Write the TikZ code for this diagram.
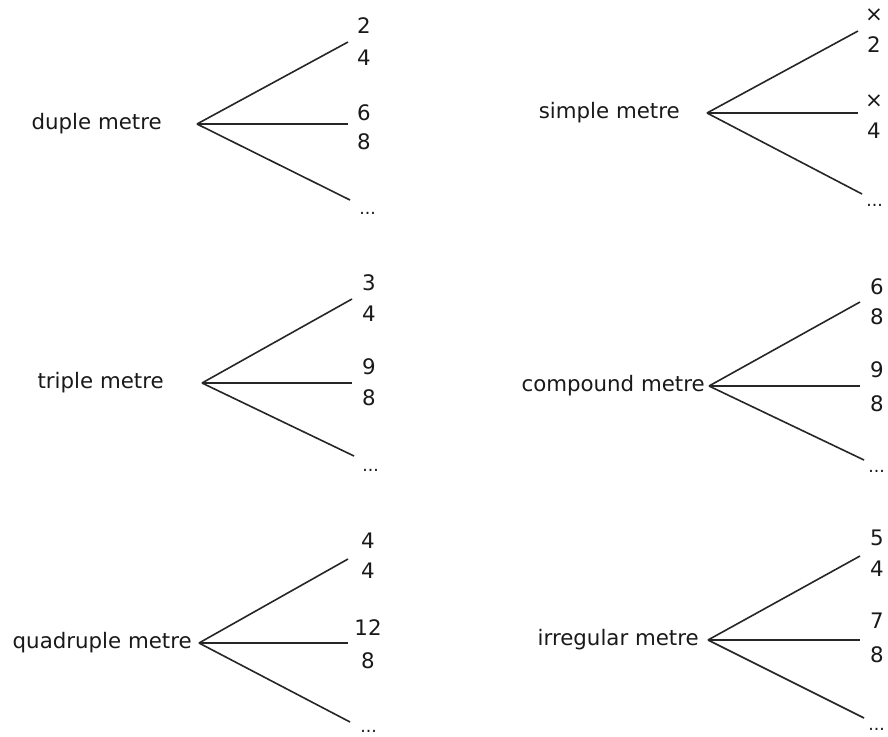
\documentclass[tikz,border=0pt]{standalone}
\usepackage{fontspec}
\setmainfont{DejaVu Sans}
\begin{document}
\begin{tikzpicture}[x=0.75pt,y=-0.75pt,
  branch/.style={draw=black!85,line width=1.2pt},
  lbl/.style={anchor=base east,inner sep=0pt,font=\fontsize{16}{19}\selectfont,text=black!90},
  num/.style={anchor=center,inner sep=0pt,font=\fontsize{16}{19}\selectfont,text=black!90},
  dots/.style={anchor=base west,inner sep=0pt,font=\fontsize{13}{15}\selectfont,text=black!90}]
\useasboundingbox (0,0) rectangle (888,736);

% ---- duple ----
\coordinate (dA) at (197,124);
\node[lbl] (dL) at (162,129) {duple metre};
\coordinate (dU) at (348,42);
\coordinate (dM) at (348,124);
\coordinate (dD) at (350,200);
\draw[branch] (dA) -- (dU);
\draw[branch] (dA) -- (dM);
\draw[branch] (dA) -- (dD);
\node[num] (d1) at (364,26) {2};
\node[num] (d2) at (364,58) {4};
\node[num] (d3) at (364,113) {6};
\node[num] (d4) at (364,142) {8};
\node[dots] (d5) at (359,214) {...};

% ---- triple ----
\coordinate (tA) at (202,383);
\node[lbl] (tL) at (164,388) {triple metre};
\coordinate (tU) at (352,299);
\coordinate (tM) at (352,383);
\coordinate (tD) at (354,456);
\draw[branch] (tA) -- (tU);
\draw[branch] (tA) -- (tM);
\draw[branch] (tA) -- (tD);
\node[num] (t1) at (369,283) {3};
\node[num] (t2) at (369,314) {4};
\node[num] (t3) at (369,367) {9};
\node[num] (t4) at (369,398) {8};
\node[dots] (t5) at (362,471) {...};

% ---- quadruple ----
\coordinate (qA) at (199,643);
\node[lbl] (qL) at (192,648) {quadruple metre};
\coordinate (qU) at (348,559);
\coordinate (qM) at (348,643);
\coordinate (qD) at (350,722);
\draw[branch] (qA) -- (qU);
\draw[branch] (qA) -- (qM);
\draw[branch] (qA) -- (qD);
\node[num] (q1) at (368,541) {4};
\node[num] (q2) at (368,571) {4};
\node[num] (q3) at (368,628) {12};
\node[num] (q4) at (368,661) {8};
\node[dots] (q5) at (360,732) {...};

% ---- simple ----
\coordinate (sA) at (707,113);
\node[lbl] (sL) at (680,118) {simple metre};
\coordinate (sU) at (858,31);
\coordinate (sM) at (858,113);
\coordinate (sD) at (862,194);
\draw[branch] (sA) -- (sU);
\draw[branch] (sA) -- (sM);
\draw[branch] (sA) -- (sD);
\node[num] (s1) at (874,15) {×};
\node[num] (s2) at (874,45) {2};
\node[num] (s3) at (874,101) {×};
\node[num] (s4) at (874,131) {4};
\node[dots] (s5) at (866,206) {...};

% ---- compound ----
\coordinate (cA) at (709,386);
\node[lbl] (cL) at (705,391) {compound metre};
\coordinate (cU) at (860,302);
\coordinate (cM) at (860,386);
\coordinate (cD) at (864,460);
\draw[branch] (cA) -- (cU);
\draw[branch] (cA) -- (cM);
\draw[branch] (cA) -- (cD);
\node[num] (c1) at (877,287) {6};
\node[num] (c2) at (877,317) {8};
\node[num] (c3) at (877,370) {9};
\node[num] (c4) at (877,404) {8};
\node[dots] (c5) at (868,472) {...};

% ---- irregular ----
\coordinate (iA) at (708,640);
\node[lbl] (iL) at (699,645) {irregular metre};
\coordinate (iU) at (860,556);
\coordinate (iM) at (860,640);
\coordinate (iD) at (864,718);
\draw[branch] (iA) -- (iU);
\draw[branch] (iA) -- (iM);
\draw[branch] (iA) -- (iD);
\node[num] (i1) at (877,538) {5};
\node[num] (i2) at (877,569) {4};
\node[num] (i3) at (877,621) {7};
\node[num] (i4) at (877,655) {8};
\node[dots] (i5) at (868,730) {...};
\end{tikzpicture}
\end{document}
